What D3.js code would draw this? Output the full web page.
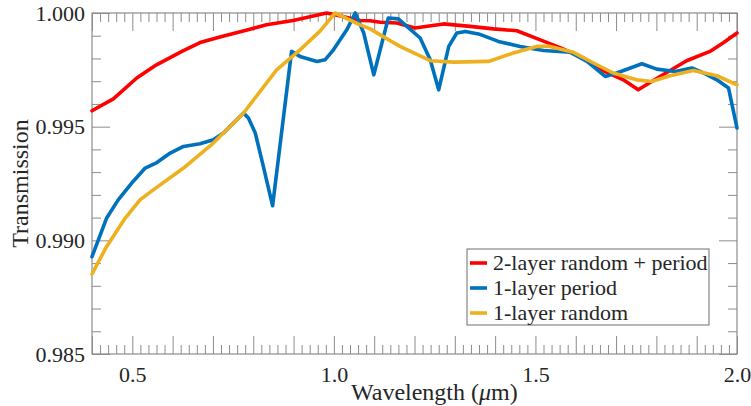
<!DOCTYPE html>
<html>
<head>
<meta charset="utf-8">
<script src="https://cdn.jsdelivr.net/npm/d3@7"></script>
<style>
  html, body { margin: 0; padding: 0; background: #fff; }
  svg { display: block; }
</style>
</head>
<body>
<svg id="chart" width="751" height="406" font-family="Liberation Serif"></svg>
<script>
// Transmission spectra of three anti-reflection layer designs
const seriesNames = ["2-layer random + period", "1-layer period", "1-layer random"];
const seriesColors = ["#ff0000", "#0072bd", "#edb120"];

const redWave = [0.400, 0.453, 0.511, 0.560, 0.623, 0.668, 0.722, 0.780, 0.833, 0.899, 0.982, 1.000, 1.065, 1.090, 1.115, 1.156, 1.201, 1.272, 1.338, 1.396, 1.454, 1.512, 1.561, 1.619, 1.669, 1.718, 1.755, 1.809, 1.875, 1.933, 1.967, 2.000];
const redT    = [0.99570, 0.99622, 0.99714, 0.99772, 0.99831, 0.99870, 0.99897, 0.99923, 0.99948, 0.99967, 1.00000, 0.99993, 0.99967, 0.99966, 0.99959, 0.99956, 0.99934, 0.99952, 0.99941, 0.99930, 0.99922, 0.99882, 0.99848, 0.99802, 0.99746, 0.99706, 0.99662, 0.99721, 0.99790, 0.99831, 0.99870, 0.99912];

const blueWave = [0.400, 0.436, 0.465, 0.502, 0.532, 0.561, 0.594, 0.627, 0.668, 0.701, 0.726, 0.751, 0.776, 0.788, 0.805, 0.825, 0.848, 0.895, 0.916, 0.958, 0.978, 0.999, 1.032, 1.053, 1.074, 1.099, 1.135, 1.160, 1.181, 1.214, 1.239, 1.260, 1.285, 1.305, 1.326, 1.359, 1.408, 1.462, 1.520, 1.587, 1.628, 1.673, 1.702, 1.764, 1.801, 1.847, 1.888, 1.917, 1.950, 1.979, 2.000];
const blueT    = [0.98928, 0.99097, 0.99178, 0.99259, 0.99318, 0.99342, 0.99384, 0.99413, 0.99425, 0.99442, 0.99472, 0.99516, 0.99560, 0.99538, 0.99472, 0.99325, 0.99152, 0.99831, 0.99809, 0.99787, 0.99794, 0.99838, 0.99926, 1.00000, 0.99912, 0.99728, 0.99978, 0.99974, 0.99941, 0.99890, 0.99794, 0.99662, 0.99853, 0.99912, 0.99919, 0.99908, 0.99875, 0.99853, 0.99835, 0.99827, 0.99787, 0.99721, 0.99736, 0.99777, 0.99753, 0.99743, 0.99758, 0.99736, 0.99706, 0.99670, 0.99494];

const yellowWave = [0.400, 0.436, 0.482, 0.519, 0.552, 0.627, 0.701, 0.776, 0.858, 0.916, 0.965, 1.003, 1.065, 1.090, 1.115, 1.164, 1.239, 1.297, 1.383, 1.445, 1.503, 1.536, 1.594, 1.644, 1.693, 1.751, 1.788, 1.834, 1.892, 1.950, 2.000];
const yellowT    = [0.98852, 0.98972, 0.99097, 0.99178, 0.99222, 0.99318, 0.99428, 0.99560, 0.99750, 0.99838, 0.99919, 1.00000, 0.99948, 0.99930, 0.99904, 0.99853, 0.99790, 0.99784, 0.99787, 0.99824, 0.99853, 0.99853, 0.99827, 0.99780, 0.99736, 0.99706, 0.99699, 0.99724, 0.99747, 0.99724, 0.99684];

const xLabelTicks = [0.5, 1.0, 1.5, 2.0];
const yLabelTicks = [0.985, 0.990, 0.995, 1.000];

const svg = d3.select("#chart");
const margin = { left: 92, right: 14, top: 13, bottom: 52 };
const W = 751, H = 406;
const plotW = W - margin.left - margin.right;
const plotH = H - margin.top - margin.bottom;

const x = d3.scaleLinear().domain([0.4, 2.0]).range([0, plotW]);
const y = d3.scaleLinear().domain([0.985, 1.000]).range([plotH, 0]);

const g = svg.append("g").attr("transform", `translate(${margin.left},${margin.top})`);

const axisColor = "#8c8c8c";
const textColor = "#262626";
const majorLen = 18, minorLen = 9;

// tick value sets
const xMajor = d3.range(0, 17).map(i => +(0.4 + i * 0.1).toFixed(2));
const xMinor = d3.range(0, 81).map(i => +(0.4 + i * 0.02).toFixed(3)).filter(v => !xMajor.some(m => Math.abs(m - v) < 1e-9));
const yMajor = yLabelTicks;
const yMinor = d3.range(0, 16).map(i => +(0.985 + i * 0.001).toFixed(4)).filter(v => !yMajor.some(m => Math.abs(m - v) < 1e-9));

function styleAxis(sel) {
  sel.attr("font-family", "Liberation Serif");
  sel.select(".domain").remove();
  sel.selectAll(".tick line").attr("stroke", axisColor).attr("stroke-width", 1);
  sel.selectAll(".tick text").attr("fill", textColor).attr("font-size", 22);
}

// inward ticks on all four sides
const sides = [
  { gen: d3.axisBottom, tr: `translate(0,${plotH})`, scale: x, major: xMajor, minor: xMinor },
  { gen: d3.axisTop, tr: `translate(0,0)`, scale: x, major: xMajor, minor: xMinor },
  { gen: d3.axisLeft, tr: `translate(0,0)`, scale: y, major: yMajor, minor: yMinor },
  { gen: d3.axisRight, tr: `translate(${plotW},0)`, scale: y, major: yMajor, minor: yMinor }
];
sides.forEach(s => {
  g.append("g").attr("transform", s.tr)
    .call(s.gen(s.scale).tickValues(s.minor).tickSize(-minorLen).tickFormat(""))
    .call(styleAxis);
  g.append("g").attr("transform", s.tr)
    .call(s.gen(s.scale).tickValues(s.major).tickSize(-majorLen).tickFormat(""))
    .call(styleAxis);
});

// tick labels
g.append("g").attr("transform", `translate(0,${plotH})`)
  .call(d3.axisBottom(x).tickValues(xLabelTicks).tickSize(0).tickPadding(12).tickFormat(d3.format(".1f")))
  .call(styleAxis);
g.append("g")
  .call(d3.axisLeft(y).tickValues(yLabelTicks).tickSize(0).tickPadding(7).tickFormat(d3.format(".3f")))
  .call(styleAxis);

// frame
g.append("rect").attr("x", 0).attr("y", 0).attr("width", plotW).attr("height", plotH)
  .attr("fill", "none").attr("stroke", axisColor).attr("stroke-width", 1.2);

// curves
const series = [
  { wave: redWave, t: redT },
  { wave: blueWave, t: blueT },
  { wave: yellowWave, t: yellowT }
];
const line = d3.line().x(d => x(d[0])).y(d => y(d[1])).curve(d3.curveLinear);
svg.append("defs").append("clipPath").attr("id", "plotclip")
  .append("rect").attr("x", -2).attr("y", -3).attr("width", plotW + 4).attr("height", plotH + 3);
const curves = g.append("g").attr("clip-path", "url(#plotclip)");
// draw order: red, blue, yellow (yellow on top)
series.forEach((s, i) => {
  curves.append("path")
    .datum(d3.zip(s.wave, s.t))
    .attr("fill", "none")
    .attr("stroke", seriesColors[i])
    .attr("stroke-width", 3.6)
    .attr("stroke-linejoin", "round")
    .attr("stroke-linecap", "round")
    .attr("d", line);
});

// axis titles
svg.append("text")
  .attr("x", 351).attr("y", 400)
  .attr("fill", textColor).attr("font-size", 24)
  .call(t => {
    t.append("tspan").text("Wavelength (");
    t.append("tspan").attr("font-style", "italic").text("μ");
    t.append("tspan").text("m)");
  });
svg.append("text")
  .attr("transform", `translate(28,${margin.top + plotH / 2}) rotate(-90)`)
  .attr("text-anchor", "middle")
  .attr("fill", textColor).attr("font-size", 24)
  .text("Transmission");

// legend
const lg = svg.append("g").attr("transform", "translate(467,249)");
lg.append("rect").attr("width", 242).attr("height", 76)
  .attr("fill", "#fff").attr("stroke", "#6e6e6e").attr("stroke-width", 1);
seriesNames.forEach((name, i) => {
  const cy = 14 + i * 25;
  lg.append("line").attr("x1", 3).attr("x2", 20).attr("y1", cy).attr("y2", cy)
    .attr("stroke", seriesColors[i]).attr("stroke-width", 3.6);
  lg.append("text").attr("x", 26).attr("y", cy + 7)
    .attr("fill", textColor).attr("font-size", 22).text(name);
});
</script>
</body>
</html>
